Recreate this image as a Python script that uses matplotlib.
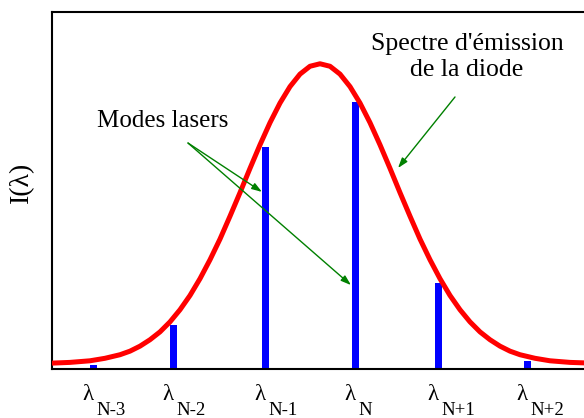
import matplotlib
matplotlib.use("Agg")
import matplotlib.pyplot as plt

# spectre d'emission de la diode
spec_x = [0, 18, 38, 53, 68, 78, 88, 98, 108, 118, 128, 138, 148, 158,
          168, 178, 188, 198, 208, 218, 228, 238, 248, 258, 268,
          278, 288, 298, 308, 318, 328, 338, 348, 358, 368, 378, 388,
          398, 408, 418, 428, 438, 448, 458, 468, 483, 498, 518, 540]
spec_y = [0.0165, 0.0185, 0.023, 0.030, 0.040, 0.050, 0.064, 0.082, 0.104,
          0.132, 0.166, 0.206, 0.253, 0.306, 0.364, 0.428, 0.494, 0.562,
          0.628, 0.690, 0.745, 0.791, 0.826, 0.848, 0.855,
          0.848, 0.826, 0.791, 0.745, 0.690, 0.628, 0.562, 0.494, 0.428,
          0.364, 0.306, 0.253, 0.206, 0.166, 0.132, 0.104, 0.082, 0.064,
          0.050, 0.040, 0.030, 0.023, 0.0185, 0.0164]

# modes lasers
mode_x = [41, 121, 213, 303, 386, 475]
mode_h = [0.011, 0.123, 0.622, 0.748, 0.241, 0.022]
mode_sub = ["N-3", "N-2", "N-1", "N", "N+1", "N+2"]

serif = "Liberation Serif"

fig = plt.figure(figsize=(5.84, 4.18), dpi=100)
ax = fig.add_axes([52/584, 49/418, 540/584, 357/418])

ax.bar(mode_x, mode_h, width=7, color="blue", zorder=2)
ax.plot(spec_x, spec_y, color="red", lw=3.6, zorder=3,
        solid_joinstyle="round")

ax.set_xlim(0, 540)
ax.set_ylim(0, 1)
ax.set_xticks([])
ax.set_yticks([])
ax.spines["right"].set_visible(False)
for s in ["left", "bottom", "top"]:
    ax.spines[s].set_linewidth(1.5)

# etiquettes lambda sous l'axe
for x, sub in zip(mode_x, mode_sub):
    ax.annotate("λ", xy=(x, 0), xycoords=("data", "axes fraction"),
                xytext=(-8, -22), textcoords="offset points",
                fontsize=16.5, family=serif, ha="left", va="baseline")
    ax.annotate(sub, xy=(x, 0), xycoords=("data", "axes fraction"),
                xytext=(2.5, -33), textcoords="offset points",
                fontsize=13.5, family=serif, ha="left", va="baseline")

fig.text(22/584, 1 - 182/418, "I(λ)", rotation=90, fontsize=20,
         family=serif, ha="center", va="center")

arrow = dict(arrowstyle="-|>,head_length=0.6,head_width=0.2",
             color="green", lw=1, shrinkA=0, shrinkB=0)

ax.text(45, 0.695, "Modes lasers", fontsize=18, family=serif,
        ha="left", va="center")
ax.annotate("", xy=(210, 0.496), xytext=(136, 0.633), arrowprops=arrow)
ax.annotate("", xy=(299, 0.235), xytext=(136, 0.633), arrowprops=arrow)

ax.text(415, 0.874, "Spectre d'émission\nde la diode", fontsize=18.5,
        family=serif, ha="center", va="center", linespacing=1.2)
ax.annotate("", xy=(346, 0.563), xytext=(403, 0.762), arrowprops=arrow)

fig.savefig("out.png", dpi=100)
